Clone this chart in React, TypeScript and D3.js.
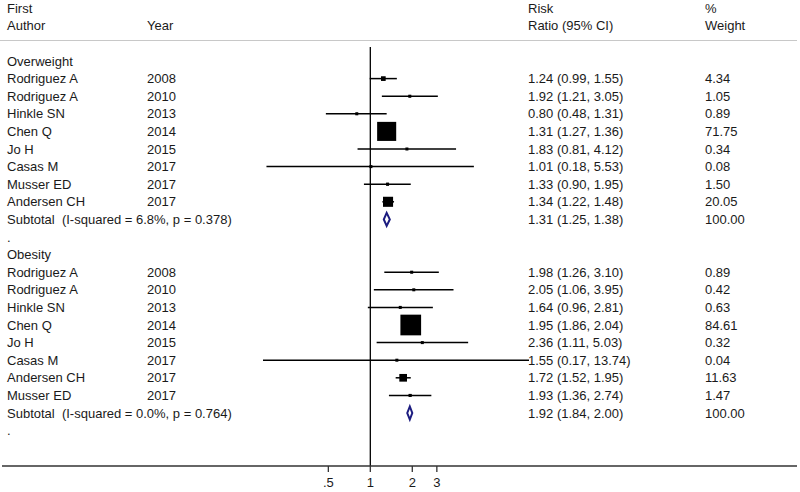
import React from "react";
import * as d3 from "d3";

const W = 800;
const H = 492;

type Row = {
  kind: "group" | "study" | "subtotal" | "blank";
  author?: string;
  year?: string;
  rr?: number;
  lo?: number;
  hi?: number;
  weight?: number;
  label?: string;
};

const owAuthors = ["Rodriguez A", "Rodriguez A", "Hinkle SN", "Chen Q", "Jo H", "Casas M", "Musser ED", "Andersen CH"];
const owYears = ["2008", "2010", "2013", "2014", "2015", "2017", "2017", "2017"];
const owRR = [1.24, 1.92, 0.8, 1.31, 1.83, 1.01, 1.33, 1.34];
const owLo = [0.99, 1.21, 0.48, 1.27, 0.81, 0.18, 0.9, 1.22];
const owHi = [1.55, 3.05, 1.31, 1.36, 4.12, 5.53, 1.95, 1.48];
const owW = [4.34, 1.05, 0.89, 71.75, 0.34, 0.08, 1.5, 20.05];
const owSub = { rr: 1.31, lo: 1.25, hi: 1.38, label: "Subtotal  (I-squared = 6.8%, p = 0.378)" };

const obAuthors = ["Rodriguez A", "Rodriguez A", "Hinkle SN", "Chen Q", "Jo H", "Casas M", "Andersen CH", "Musser ED"];
const obYears = ["2008", "2010", "2013", "2014", "2015", "2017", "2017", "2017"];
const obRR = [1.98, 2.05, 1.64, 1.95, 2.36, 1.55, 1.72, 1.93];
const obLo = [1.26, 1.06, 0.96, 1.86, 1.11, 0.17, 1.52, 1.36];
const obHi = [3.1, 3.95, 2.81, 2.04, 5.03, 13.74, 1.95, 2.74];
const obW = [0.89, 0.42, 0.63, 84.61, 0.32, 0.04, 11.63, 1.47];
const obSub = { rr: 1.92, lo: 1.84, hi: 2.0, label: "Subtotal  (I-squared = 0.0%, p = 0.764)" };

const tickValues = [0.5, 1, 2, 3];
const tickLabels = [".5", "1", "2", "3"];

function buildRows(): Row[] {
  const rows: Row[] = [];
  const add = (name: string, a: string[], y: string[], rr: number[], lo: number[], hi: number[], w: number[], sub: typeof owSub) => {
    rows.push({ kind: "group", label: name });
    a.forEach((au, i) =>
      rows.push({ kind: "study", author: au, year: y[i], rr: rr[i], lo: lo[i], hi: hi[i], weight: w[i] })
    );
    rows.push({ kind: "subtotal", rr: sub.rr, lo: sub.lo, hi: sub.hi, weight: 100, label: sub.label });
    rows.push({ kind: "blank", label: "." });
  };
  add("Overweight", owAuthors, owYears, owRR, owLo, owHi, owW, owSub);
  add("Obesity", obAuthors, obYears, obRR, obLo, obHi, obW, obSub);
  return rows;
}

const fmt = (v: number) => v.toFixed(2);

export default function App() {
  const rows = buildRows();
  const x = d3.scaleLog().domain([0.17, 13.74]).range([263, 529]);
  const y = d3.scaleLinear().domain([0, 21]).range([61, 430.6]);
  const font = "'Liberation Sans', Arial, Helvetica, sans-serif";
  const fs = 13;
  const colAuthor = 7;
  const colYear = 147;
  const colRR = 528;
  const colW = 705;
  const axisY = 466;
  const boxK = 2.25;
  const textColor = "#1a1a1a";

  return (
    <svg width={W} height={H} style={{ position: "absolute", left: 0, top: 0, background: "#fff", whiteSpace: "pre" }} fontFamily={font} fontSize={fs}>
      <rect x={0} y={0} width={W} height={H} fill="#fff" />
      {/* headers */}
      <g fill={textColor}>
        <text x={colAuthor} y={8} dominantBaseline="central">First</text>
        <text x={colAuthor} y={25} dominantBaseline="central">Author</text>
        <text x={colYear} y={25} dominantBaseline="central">Year</text>
        <text x={colRR} y={8} dominantBaseline="central">Risk</text>
        <text x={colRR} y={25} dominantBaseline="central">Ratio (95% CI)</text>
        <text x={colW} y={8} dominantBaseline="central">%</text>
        <text x={colW} y={25} dominantBaseline="central">Weight</text>
      </g>
      <line x1={0} x2={797} y1={40.5} y2={40.5} stroke="#c8c8c8" strokeWidth={1.2} />
      {/* null line */}
      <line x1={x(1)} x2={x(1)} y1={47} y2={axisY} stroke="#000" strokeWidth={1.3} />
      {/* rows */}
      {rows.map((r, i) => {
        const cy = y(i);
        if (r.kind === "group" || r.kind === "blank") {
          return (
            <text key={i} x={colAuthor} y={cy} dominantBaseline="central" fill={textColor}>{r.label}</text>
          );
        }
        if (r.kind === "subtotal") {
          const xl = x(r.lo!), xr = x(r.hi!), xm = x(r.rr!);
          const hh = 6.5;
          const d = `M${xl},${cy} L${xm},${cy - hh} L${xr},${cy} L${xm},${cy + hh} Z`;
          return (
            <g key={i}>
              <text x={colAuthor} y={cy} dominantBaseline="central" fill={textColor} style={{ whiteSpace: "pre" }}>{r.label}</text>
              <path d={d} fill="#fff" stroke="#1c1c80" strokeWidth={2} />
              <text x={colRR} y={cy} dominantBaseline="central" fill={textColor}>
                {`${fmt(r.rr!)} (${fmt(r.lo!)}, ${fmt(r.hi!)})`}
              </text>
              <text x={colW} y={cy} dominantBaseline="central" fill={textColor}>{fmt(r.weight!)}</text>
            </g>
          );
        }
        const side = boxK * Math.sqrt(r.weight!);
        const xm = x(r.rr!);
        return (
          <g key={i}>
            <text x={colAuthor} y={cy} dominantBaseline="central" fill={textColor}>{r.author}</text>
            <text x={colYear} y={cy} dominantBaseline="central" fill={textColor}>{r.year}</text>
            <line x1={x(r.lo!)} x2={x(r.hi!)} y1={cy} y2={cy} stroke="#000" strokeWidth={1.5} />
            <rect x={xm - side / 2} y={cy - side / 2} width={side} height={side} fill="#000" />
            <rect x={xm - 1.5} y={cy - 1.5} width={3} height={3} fill="#000" />
            <text x={colRR} y={cy} dominantBaseline="central" fill={textColor}>
              {`${fmt(r.rr!)} (${fmt(r.lo!)}, ${fmt(r.hi!)})`}
            </text>
            <text x={colW} y={cy} dominantBaseline="central" fill={textColor}>{fmt(r.weight!)}</text>
          </g>
        );
      })}
      {/* axis */}
      <line x1={2} x2={797} y1={axisY} y2={axisY} stroke="#333" strokeWidth={1.3} />
      {tickValues.map((t, i) => (
        <g key={t}>
          <line x1={x(t)} x2={x(t)} y1={axisY} y2={axisY + 6} stroke="#333" strokeWidth={1.3} />
          <text x={x(t)} y={482} textAnchor="middle" dominantBaseline="central" fill={textColor}>{tickLabels[i]}</text>
        </g>
      ))}
    </svg>
  );
}
